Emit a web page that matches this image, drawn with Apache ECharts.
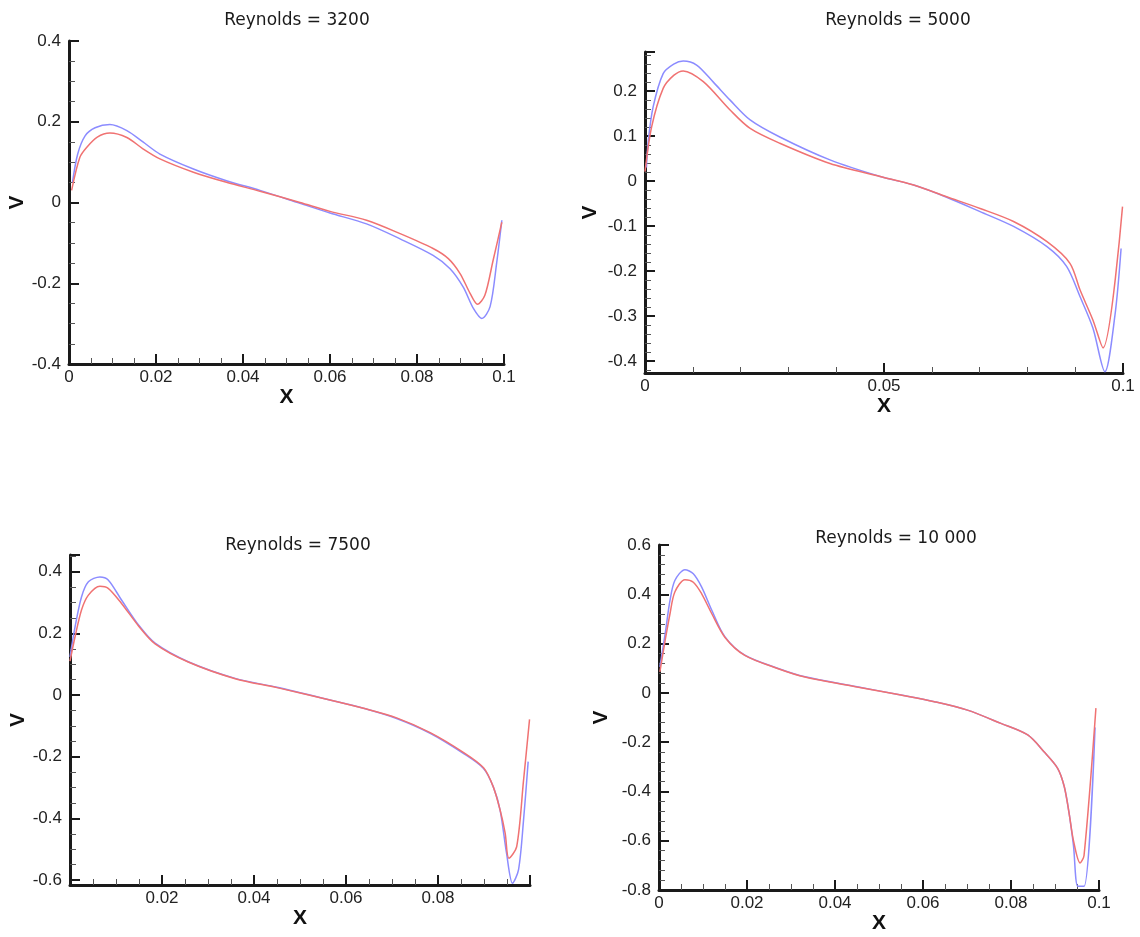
<!DOCTYPE html>
<html>
<head>
<meta charset="utf-8">
<script src="https://cdn.jsdelivr.net/npm/echarts@6/dist/echarts.min.js"></script>
<style>
  html, body { margin: 0; background: #fff; }
  #main { width: 1140px; height: 937px; }
</style>
</head>
<body>
<div id="main"></div>
<script>
// panel titles
const titles = ['Reynolds = 3200', 'Reynolds = 5000', 'Reynolds = 7500', 'Reynolds = 10 000'];

// [x, V], blue and red curve
const re3200Blue = [[0.0008,0.05],[0.002,0.12],[0.0037,0.165],[0.006,0.185],[0.0094,0.193],[0.0133,0.178],[0.017,0.15],[0.0209,0.12],[0.0286,0.083],[0.0362,0.054],[0.0439,0.03],[0.0531,-0.002],[0.06,-0.026],[0.0684,-0.053],[0.0761,-0.09],[0.0837,-0.131],[0.0876,-0.164],[0.0906,-0.209],[0.093,-0.263],[0.0949,-0.287],[0.0968,-0.258],[0.0983,-0.151],[0.0995,-0.044]];
const re3200Red = [[0.0006,0.03],[0.0025,0.112],[0.0041,0.137],[0.0065,0.162],[0.0094,0.172],[0.0133,0.161],[0.017,0.133],[0.0209,0.108],[0.0286,0.075],[0.0362,0.05],[0.0439,0.028],[0.0531,0],[0.06,-0.022],[0.0684,-0.044],[0.0761,-0.077],[0.0837,-0.114],[0.0872,-0.139],[0.0899,-0.176],[0.0922,-0.225],[0.0939,-0.252],[0.0956,-0.23],[0.0975,-0.143],[0.0995,-0.049]];

const re5000Blue = [[0.0003,0.03],[0.0007,0.091],[0.0017,0.165],[0.0038,0.239],[0.006,0.26],[0.008,0.267],[0.0108,0.258],[0.0143,0.22],[0.0178,0.18],[0.022,0.136],[0.0282,0.098],[0.0387,0.047],[0.0492,0.01],[0.0562,-0.009],[0.0631,-0.036],[0.0701,-0.068],[0.0771,-0.101],[0.0841,-0.146],[0.0882,-0.19],[0.091,-0.257],[0.0937,-0.327],[0.0962,-0.424],[0.0983,-0.30],[0.0996,-0.15]];
const re5000Red = [[0,0.021],[0.0014,0.121],[0.0038,0.206],[0.006,0.235],[0.008,0.245],[0.0122,0.221],[0.0178,0.158],[0.022,0.117],[0.0282,0.084],[0.0387,0.039],[0.0492,0.01],[0.0562,-0.009],[0.0631,-0.035],[0.0701,-0.061],[0.0771,-0.09],[0.0841,-0.135],[0.0889,-0.183],[0.091,-0.242],[0.0937,-0.309],[0.0958,-0.371],[0.0999,-0.057]];

const re7500Blue = [[0,0.124],[0.0011,0.221],[0.0025,0.318],[0.004,0.367],[0.0065,0.383],[0.0083,0.373],[0.0112,0.308],[0.0149,0.227],[0.0185,0.168],[0.0257,0.108],[0.0359,0.054],[0.045,0.025],[0.0565,-0.016],[0.0638,-0.043],[0.071,-0.076],[0.0783,-0.124],[0.0855,-0.189],[0.0899,-0.238],[0.092,-0.297],[0.0935,-0.373],[0.0949,-0.513],[0.0962,-0.61],[0.0975,-0.567],[0.0986,-0.405],[0.0996,-0.216]];
const re7500Red = [[0,0.11],[0.0011,0.189],[0.0025,0.276],[0.004,0.324],[0.0065,0.353],[0.0083,0.346],[0.0112,0.297],[0.0149,0.224],[0.0185,0.166],[0.0257,0.107],[0.0359,0.053],[0.045,0.024],[0.0565,-0.016],[0.0638,-0.043],[0.071,-0.074],[0.0783,-0.122],[0.0855,-0.186],[0.0899,-0.236],[0.092,-0.297],[0.0935,-0.373],[0.0946,-0.448],[0.0954,-0.529],[0.0971,-0.492],[0.0986,-0.276],[0.0999,-0.079]];

const re10000Blue = [[0.0002,0.105],[0.0014,0.24],[0.0025,0.375],[0.0036,0.456],[0.0059,0.5],[0.0078,0.483],[0.0097,0.429],[0.012,0.335],[0.015,0.227],[0.0195,0.153],[0.0271,0.099],[0.0332,0.065],[0.045,0.025],[0.055,-0.009],[0.0626,-0.036],[0.0701,-0.07],[0.0777,-0.124],[0.0838,-0.171],[0.0875,-0.239],[0.0906,-0.306],[0.0921,-0.38],[0.0932,-0.488],[0.0942,-0.62],[0.0952,-0.785],[0.0966,-0.785],[0.0991,-0.14]];
const re10000Red = [[0.0002,0.085],[0.0014,0.213],[0.0025,0.321],[0.0036,0.409],[0.0059,0.459],[0.0078,0.449],[0.0097,0.402],[0.012,0.321],[0.015,0.225],[0.0195,0.152],[0.0271,0.098],[0.0332,0.064],[0.045,0.024],[0.055,-0.009],[0.0626,-0.036],[0.0701,-0.07],[0.0777,-0.124],[0.0838,-0.171],[0.0875,-0.239],[0.0906,-0.306],[0.0921,-0.38],[0.0932,-0.488],[0.0942,-0.6],[0.0957,-0.69],[0.0966,-0.66],[0.0993,-0.062]];

const blue = '#8c8cff';
const red = '#f07272';
const font = "'Liberation Sans', Arial, sans-serif";

const chart = echarts.init(document.getElementById('main'));

function axisBase(gridIndex) {
  return {
    gridIndex: gridIndex,
    type: 'value',
    nameLocation: 'middle',
    nameTextStyle: { fontFamily: font, fontWeight: 'bold', fontSize: 21, color: '#111' },
    splitLine: { show: false },
    axisLine: { onZero: false, lineStyle: { color: '#1a1a1a', width: 3 } },
    axisTick: { inside: true, length: 10, lineStyle: { color: '#1a1a1a', width: 2 } },
    axisLabel: { fontFamily: font, fontSize: 17, color: '#222' }
  };
}

function minor(n) {
  return { show: true, splitNumber: n, length: 6, lineStyle: { color: '#555', width: 1 } };
}

function xAx(gridIndex, opts) {
  const a = axisBase(gridIndex);
  a.name = 'X';
  a.axisLabel.margin = 5;
  return Object.assign(a, opts);
}

function yAx(gridIndex, opts) {
  const a = axisBase(gridIndex);
  a.name = 'V';
  a.axisLabel.margin = 8;
  return Object.assign(a, opts);
}

function line(idx, data, color) {
  return {
    type: 'line', xAxisIndex: idx, yAxisIndex: idx, data: data,
    showSymbol: false, smooth: 0.3, clip: true,
    lineStyle: { color: color, width: 1.5 }
  };
}

const titleStyle = { fontFamily: "'DejaVu Sans', sans-serif", fontSize: 17, fontWeight: 'normal', color: '#1a1a1a' };

const option = {
  backgroundColor: '#fff',
  animation: false,
  title: [
    { text: titles[0], left: 292, top: 7, textAlign: 'center', textStyle: titleStyle },
    { text: titles[1], left: 893, top: 7, textAlign: 'center', textStyle: titleStyle },
    { text: titles[2], left: 293, top: 532, textAlign: 'center', textStyle: titleStyle },
    { text: titles[3], left: 891, top: 525, textAlign: 'center', textStyle: titleStyle }
  ],
  grid: [
    { left: 69, top: 41, width: 435, height: 323 },
    { left: 645, top: 52, width: 478, height: 321 },
    { left: 70, top: 555, width: 460, height: 330 },
    { left: 659, top: 545, width: 440, height: 345 }
  ],
  xAxis: [
    xAx(0, { min: 0, max: 0.1, interval: 0.02, nameGap: 19, minorTick: minor(4) }),
    xAx(1, { min: 0, max: 0.1, interval: 0.05, nameGap: 22, minorTick: minor(5) }),
    xAx(2, { min: 0, max: 0.1, interval: 0.02, nameGap: 20, minorTick: minor(4) }),
    xAx(3, { min: 0, max: 0.1, interval: 0.02, nameGap: 23, minorTick: minor(4) })
  ],
  yAxis: [
    yAx(0, { min: -0.4, max: 0.4, interval: 0.2, nameGap: 38, minorTick: minor(4) }),
    yAx(1, { min: -0.427, max: 0.287, splitNumber: 7, nameGap: 44, minorTick: minor(5) }),
    yAx(2, { min: -0.616, max: 0.454, splitNumber: 5, nameGap: 35, minorTick: minor(4) }),
    yAx(3, { min: -0.8, max: 0.6, interval: 0.2, nameGap: 47, minorTick: minor(5) })
  ],
  series: [
    line(0, re3200Blue, blue), line(0, re3200Red, red),
    line(1, re5000Blue, blue), line(1, re5000Red, red),
    line(2, re7500Blue, blue), line(2, re7500Red, red),
    line(3, re10000Blue, blue), line(3, re10000Red, red)
  ]
};

// hide the fractional extent labels and the 0 / 0.1 ends on the 7500 x axis
option.yAxis[1].axisLabel.showMinLabel = false;
option.yAxis[1].axisLabel.showMaxLabel = false;
option.yAxis[2].axisLabel.showMinLabel = false;
option.yAxis[2].axisLabel.showMaxLabel = false;
option.xAxis[2].axisLabel.showMinLabel = false;
option.xAxis[2].axisLabel.showMaxLabel = false;

chart.setOption(option);
</script>
</body>
</html>
